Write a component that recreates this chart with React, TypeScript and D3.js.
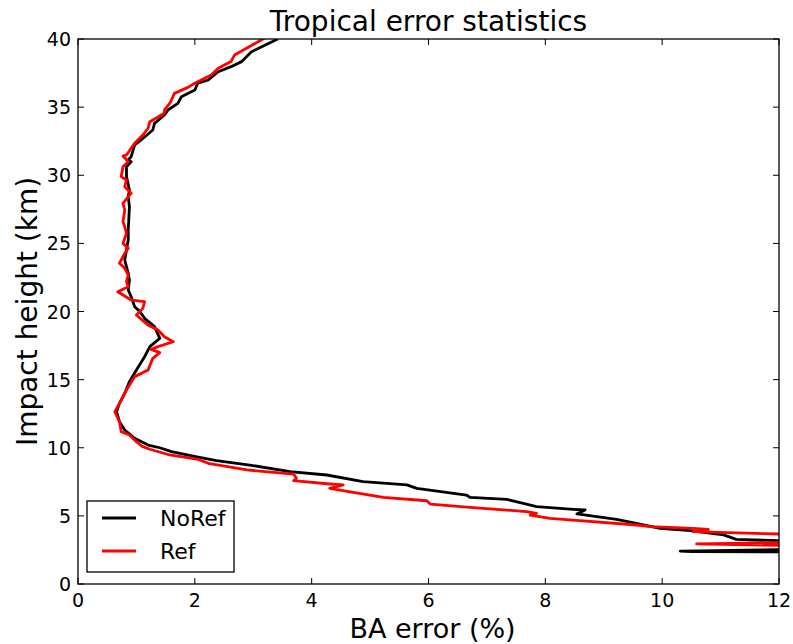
import React, { useRef, useEffect } from 'react';
import * as d3 from 'd3';

// traced profiles: impact height (km) and bending angle error (%)
const noRefHeight = [40.0, 39.07, 38.34, 37.97, 37.6, 36.99, 36.75, 36.26, 35.77, 35.28, 34.79, 34.42, 33.81, 33.32, 32.59, 32.22, 31.36, 31.12, 30.99, 30.63, 29.9, 28.92, 28.43, 27.69, 25.98, 25.25, 24.51, 23.78, 22.8, 22.31, 21.58, 21.09, 20.35, 19.99, 19.5, 18.89, 18.03, 17.42, 16.68, 15.71, 14.85, 14.0, 13.26, 12.65, 11.91, 11.3, 10.69, 10.2, 10.0, 9.71, 9.39, 9.05, 8.73, 8.24, 8.0, 7.51, 7.27, 7.02, 6.53, 6.36, 6.21, 5.97, 5.68, 5.48, 5.43, 5.14, 4.75, 4.4, 4.09, 3.91, 3.6, 3.28, 3.23, 3.1, 2.6, 2.42, 2.38, 2.36, 2.3];
const noRefError = [3.42, 2.97, 2.8, 2.62, 2.4, 2.23, 2.05, 2.0, 1.77, 1.71, 1.54, 1.48, 1.31, 1.28, 1.08, 0.97, 0.91, 0.86, 0.91, 0.83, 0.83, 0.88, 0.86, 0.88, 0.86, 0.86, 0.83, 0.8, 0.86, 0.88, 0.86, 0.91, 0.97, 1.06, 1.14, 1.31, 1.4, 1.23, 1.14, 1.0, 0.88, 0.8, 0.71, 0.66, 0.71, 0.8, 0.97, 1.2, 1.4, 1.6, 1.97, 2.37, 2.94, 3.63, 4.26, 4.88, 5.63, 5.8, 6.65, 6.71, 7.34, 7.57, 7.85, 8.48, 8.68, 8.54, 9.22, 9.62, 9.96, 10.48, 11.05, 11.27, 11.59, 12.6, 13.5, 10.31, 10.5, 12.0, 13.5];

const refHeight = [40.2, 38.83, 38.34, 37.85, 37.36, 36.99, 36.75, 36.45, 36.01, 35.52, 35.28, 34.79, 34.55, 33.93, 33.45, 32.95, 32.35, 31.98, 31.49, 31.41, 30.99, 30.63, 29.9, 29.65, 29.16, 28.68, 27.94, 27.45, 26.59, 26.22, 25.74, 25.0, 24.64, 24.27, 23.54, 23.17, 22.68, 22.19, 21.82, 21.45, 20.84, 20.72, 20.23, 19.74, 19.0, 18.64, 18.15, 17.78, 17.42, 17.22, 16.98, 16.56, 15.71, 15.22, 14.24, 13.5, 12.65, 11.91, 11.18, 10.94, 10.44, 10.1, 9.89, 9.47, 9.15, 8.86, 8.37, 8.07, 7.76, 7.58, 7.34, 7.27, 7.02, 6.77, 6.36, 6.11, 5.87, 5.63, 5.31, 5.19, 5.06, 4.82, 4.75, 4.33, 4.21, 4.09, 4.01, 3.84, 3.67, 3.6, 3.1, 2.94, 2.79, 2.6];
const refError = [3.25, 2.68, 2.62, 2.4, 2.28, 2.11, 2.0, 1.88, 1.65, 1.6, 1.57, 1.48, 1.48, 1.23, 1.2, 1.11, 0.97, 0.91, 0.83, 0.77, 0.86, 0.77, 0.74, 0.83, 0.8, 0.91, 0.77, 0.8, 0.77, 0.8, 0.83, 0.77, 0.86, 0.8, 0.71, 0.8, 0.86, 0.83, 0.86, 0.68, 0.91, 1.14, 1.11, 1.0, 1.2, 1.37, 1.48, 1.63, 1.37, 1.25, 1.4, 1.28, 1.2, 0.97, 0.83, 0.74, 0.63, 0.71, 0.74, 0.88, 1.0, 1.1, 1.23, 1.57, 2.06, 2.23, 2.89, 3.69, 3.74, 3.69, 4.31, 4.54, 4.31, 4.66, 5.23, 5.97, 6.03, 6.71, 7.68, 7.85, 7.74, 8.08, 8.31, 9.56, 9.79, 10.53, 10.79, 10.53, 12.0, 13.0, 13.0, 10.59, 12.5, 13.0];

const xTicks = [0, 2, 4, 6, 8, 10, 12];
const yTicks = [0, 5, 10, 15, 20, 25, 30, 35, 40];
const seriesNames = ['NoRef', 'Ref'];
const seriesColors = ['#000000', '#ff0000'];

const App = () => {
  const width = 793;
  const height = 644;
  const margin = { left: 78, right: 14, top: 39, bottom: 60 };
  const ref = useRef<SVGSVGElement>(null);

  useEffect(() => {
    if (!ref.current) return;
    const svg = d3.select(ref.current);
    svg.selectAll('*').remove();

    const x = d3.scaleLinear().domain([0, 12]).range([margin.left, width - margin.right]);
    const y = d3.scaleLinear().domain([0, 40]).range([height - margin.bottom, margin.top]);
    const font = 'DejaVu Sans, sans-serif';

    svg.append('clipPath').attr('id', 'plotclip')
      .append('rect')
      .attr('x', x(0)).attr('y', y(40))
      .attr('width', x(12) - x(0)).attr('height', y(0) - y(40));

    const series = [
      { h: noRefHeight, e: noRefError },
      { h: refHeight, e: refError },
    ];
    const line = d3.line<[number, number]>().x(d => x(d[0])).y(d => y(d[1]));
    series.forEach((s, i) => {
      const pts: [number, number][] = s.h.map((h, j) => [s.e[j], h]);
      svg.append('path')
        .attr('d', line(pts))
        .attr('fill', 'none')
        .attr('stroke', seriesColors[i])
        .attr('stroke-width', 2.8)
        .attr('stroke-linejoin', 'round')
        .attr('clip-path', 'url(#plotclip)');
    });

    // frame
    svg.append('rect')
      .attr('x', x(0)).attr('y', y(40))
      .attr('width', x(12) - x(0)).attr('height', y(0) - y(40))
      .attr('fill', 'none').attr('stroke', '#000').attr('stroke-width', 1.3);

    // ticks, pointing inward on all sides
    const tl = 6;
    xTicks.forEach(t => {
      svg.append('line').attr('x1', x(t)).attr('x2', x(t)).attr('y1', y(0)).attr('y2', y(0) - tl).attr('stroke', '#000');
      svg.append('line').attr('x1', x(t)).attr('x2', x(t)).attr('y1', y(40)).attr('y2', y(40) + tl).attr('stroke', '#000');
      svg.append('text').attr('x', x(t)).attr('y', y(0) + 23)
        .attr('text-anchor', 'middle').attr('font-family', font).attr('font-size', 19)
        .text(t);
    });
    yTicks.forEach(t => {
      svg.append('line').attr('x1', x(0)).attr('x2', x(0) + tl).attr('y1', y(t)).attr('y2', y(t)).attr('stroke', '#000');
      svg.append('line').attr('x1', x(12)).attr('x2', x(12) - tl).attr('y1', y(t)).attr('y2', y(t)).attr('stroke', '#000');
      svg.append('text').attr('x', x(0) - 7).attr('y', y(t) + 7)
        .attr('text-anchor', 'end').attr('font-family', font).attr('font-size', 19)
        .text(t);
    });

    svg.append('text').attr('x', (x(0) + x(12)) / 2).attr('y', 31)
      .attr('text-anchor', 'middle').attr('font-family', font).attr('font-size', 28)
      .text('Tropical error statistics');
    svg.append('text').attr('x', (x(0) + x(12)) / 2 + 4).attr('y', 638)
      .attr('text-anchor', 'middle').attr('font-family', font).attr('font-size', 27)
      .text('BA error (%)');
    svg.append('text')
      .attr('transform', `translate(37, ${(y(0) + y(40)) / 2}) rotate(-90)`)
      .attr('text-anchor', 'middle').attr('font-family', font).attr('font-size', 28)
      .text('Impact height (km)');

    // legend
    const lg = svg.append('g');
    lg.append('rect').attr('x', 87).attr('y', 501).attr('width', 147).attr('height', 71)
      .attr('fill', '#fff').attr('stroke', '#000').attr('stroke-width', 1.3);
    seriesNames.forEach((name, i) => {
      const ly = 518 + i * 33;
      lg.append('line').attr('x1', 102).attr('x2', 136).attr('y1', ly).attr('y2', ly)
        .attr('stroke', seriesColors[i]).attr('stroke-width', 2.8);
      lg.append('text').attr('x', 160).attr('y', ly + 8)
        .attr('font-family', font).attr('font-size', 22).text(name);
    });
  }, []);

  return (
    <svg ref={ref} width={width} height={height}
      style={{ position: 'absolute', left: 0, top: 0, background: '#fff' }} />
  );
};

export default App;
